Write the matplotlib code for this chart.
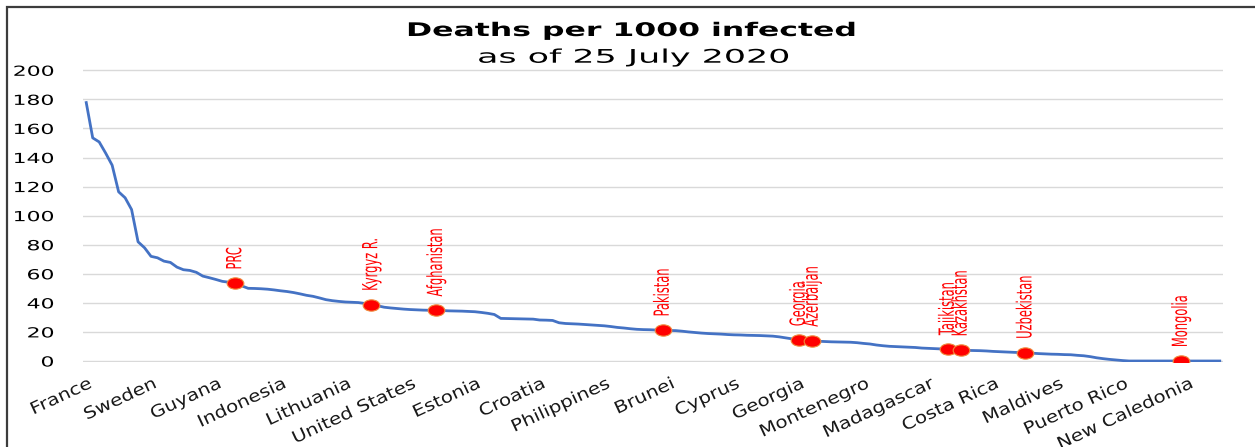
import matplotlib
matplotlib.use("Agg")
import matplotlib.pyplot as plt
from matplotlib.patheffects import AbstractPathEffect
from matplotlib.transforms import Affine2D, ScaledTranslation
from matplotlib.path import Path
from matplotlib.patches import Rectangle

# Deaths per 1000 infected, countries sorted from highest to lowest
deaths_per_1000 = [
    177.8, 153.5, 150.7, 143.0, 134.7, 116.4, 112.3, 104.2, 82.0, 77.9,
    72.0, 71.0, 68.7, 67.8, 64.6, 62.8, 62.3, 61.0, 58.4, 57.3,
    56.1, 54.8, 54.2, 53.4, 51.7, 50.0, 49.9, 49.7, 49.4, 48.9,
    48.3, 47.8, 47.1, 46.2, 45.2, 44.5, 43.4, 42.2, 41.5, 41.0,
    40.6, 40.4, 40.2, 39.6, 38.7, 38.0, 37.0, 36.5, 36.1, 35.7,
    35.4, 35.2, 35.0, 34.9, 34.8, 34.7, 34.5, 34.4, 34.3, 34.1,
    33.9, 33.4, 32.8, 32.0, 29.3, 29.2, 29.1, 29.0, 28.9, 28.8,
    28.2, 28.1, 27.9, 26.3, 25.8, 25.6, 25.4, 25.1, 24.8, 24.5,
    24.2, 23.7, 23.1, 22.7, 22.2, 21.8, 21.6, 21.5, 21.3, 21.1,
    21.0, 20.9, 20.5, 20.0, 19.6, 19.2, 18.9, 18.7, 18.5, 18.2,
    18.0, 17.9, 17.7, 17.6, 17.5, 17.3, 17.1, 16.6, 15.9, 15.2,
    14.4, 14.2, 14.0, 13.6, 13.4, 13.2, 13.1, 13.0, 12.9, 12.6,
    12.1, 11.7, 11.0, 10.5, 10.1, 9.9, 9.7, 9.5, 9.3, 8.9,
    8.7, 8.5, 8.3, 8.2, 7.7, 7.4, 7.3, 7.2, 7.1, 6.9,
    6.6, 6.4, 6.2, 6.0, 5.8, 5.7, 5.4, 5.1, 4.9, 4.7,
    4.6, 4.4, 4.3, 3.9, 3.6, 3.0, 2.2, 1.6, 1.1, 0.7,
    0.3, 0.0, 0.0, 0.0, 0.0, 0.0, 0.0, 0.0, 0.0, 0.0,
    0.0, 0.0, 0.0, 0.0, 0.0, 0.0,
]

# Every tenth country is named on the category axis
tick_labels = [
    "France", "Sweden", "Guyana", "Indonesia", "Lithuania", "United States",
    "Estonia", "Croatia", "Philippines", "Brunei", "Cyprus", "Georgia",
    "Montenegro", "Madagascar", "Costa Rica", "Maldives", "Puerto Rico",
    "New Caledonia",
]
tick_step = 10

# Highlighted countries and their rank in the sorted list
highlight_names = [
    "PRC", "Kyrgyz R.", "Afghanistan", "Pakistan", "Georgia", "Azerbaijan",
    "Tajikistan", "Kazakhstan", "Uzbekistan", "Mongolia",
]
highlight_rank = [23, 44, 54, 89, 110, 112, 133, 135, 145, 169]


class Stretch(AbstractPathEffect):
    """Scale glyph outlines along the text's reading direction."""

    def __init__(self, sx=1.0, sy=1.0, anchor="start"):
        super().__init__()
        self.sx, self.sy, self.anchor = sx, sy, anchor

    def draw_path(self, renderer, gc, tpath, affine, rgbFace=None):
        ext = tpath.get_extents()
        if self.anchor == "center":
            x0 = 0.5 * (ext.x0 + ext.x1)
        elif self.anchor == "end":
            x0 = ext.x1
        else:
            x0 = 0.0
        t = Affine2D().translate(-x0, 0).scale(self.sx, self.sy).translate(x0, 0)
        renderer.draw_path(gc, tpath, t + affine, rgbFace)


W, H = 1255, 447
fig = plt.figure(figsize=(W / 100, H / 100), dpi=100)
fig.patch.set_facecolor("white")

ax = fig.add_axes([83 / W, 1 - 362.45 / H, 1140 / W, (362.45 - 68.85) / H])
n = len(deaths_per_1000)
xs = list(range(n))

ax.plot(xs, deaths_per_1000, color="#4472C4", lw=2.0, solid_joinstyle="round",
        zorder=3)

# red oval markers for the highlighted countries
oval = Path.unit_circle().transformed(Affine2D().scale(1.0, 0.68))
hx = highlight_rank
hy = [deaths_per_1000[i] for i in highlight_rank]
ax.plot(hx, hy, linestyle="none", marker=oval, markersize=12,
        markerfacecolor="#FF0000", markeredgecolor="#F08A3C", markeredgewidth=0.8,
        zorder=4)
for name, x, y in zip(highlight_names, hx, hy):
    t = ax.annotate(name, (x, y), xytext=(0, 10), textcoords="offset points",
                    rotation=90, ha="center", va="bottom", color="#FF0000",
                    fontsize=15, zorder=5)
    t.set_path_effects([Stretch(0.55, 1.0, "start")])

ax.set_xlim(-0.5, n - 0.5)
ax.set_ylim(-1, 201)
ax.set_yticks(range(0, 201, 20))
ax.yaxis.grid(True, color="#D9D9D9", lw=1.0)
ax.set_axisbelow(True)
for s in ax.spines.values():
    s.set_visible(False)

ax.set_xticks([i * tick_step for i in range(len(tick_labels))])
ax.set_xticklabels(tick_labels, rotation=25, ha="right", va="center",
                   rotation_mode="anchor", fontsize=12, color="#1A1A1A")
ax.tick_params(axis="x", length=0, pad=14.5)
shift = ScaledTranslation(3 / 72, 0, fig.dpi_scale_trans)
for lab in ax.get_xticklabels():
    lab.set_transform(lab.get_transform() + shift)
    lab.set_path_effects([Stretch(1.19, 1.0, "end")])

ax.tick_params(axis="y", length=0, pad=21, labelsize=10, labelcolor="#000000")
for lab in ax.get_yticklabels():
    lab.set_path_effects([Stretch(1.58, 1.0, "end")])

t1 = fig.text(631.5 / W, 1 - 36 / H, "Deaths per 1000 infected", ha="center",
              va="baseline", fontsize=13.5, fontweight="bold", color="#000000")
t1.set_path_effects([Stretch(1.68, 1.0, "center")])
t2 = fig.text(633.5 / W, 1 - 62.7 / H, "as of 25 July 2020", ha="center",
              va="baseline", fontsize=13.5, color="#000000")
t2.set_path_effects([Stretch(1.86, 1.0, "center")])

# chart frame, partly running past the canvas edges
fig.patches.append(Rectangle((7 / W, -0.2), 1.2, 1.2 - 7 / H, transform=fig.transFigure,
                             fill=False, edgecolor="#3C3C3C", lw=1.6))

fig.savefig("out.png", dpi=100, facecolor="white")
